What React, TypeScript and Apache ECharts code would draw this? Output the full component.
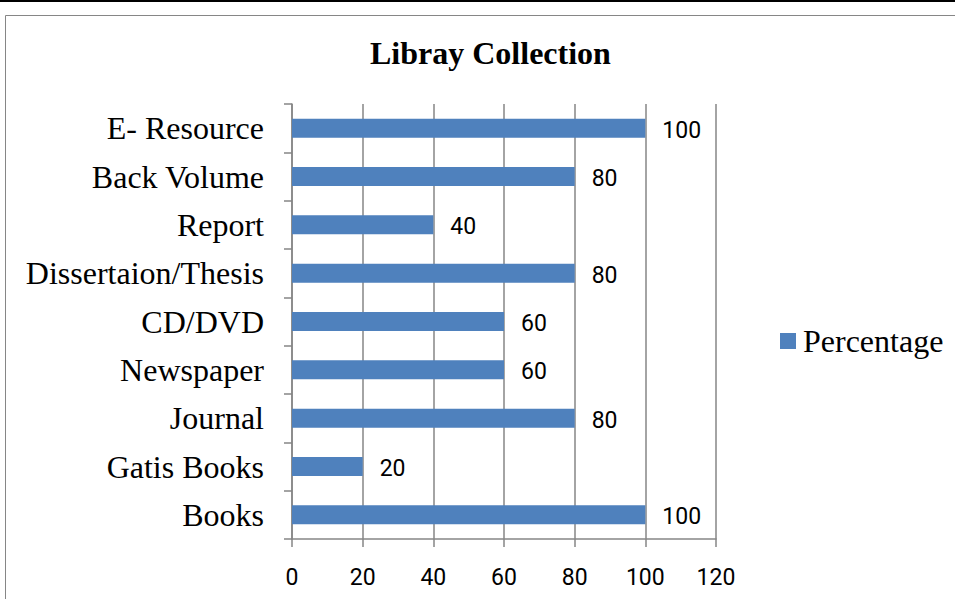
import React, { useEffect, useRef } from "react";
import * as echarts from "echarts";

const categories = [
  "Books",
  "Gatis Books",
  "Journal",
  "Newspaper",
  "CD/DVD",
  "Dissertaion/Thesis",
  "Report",
  "Back Volume",
  "E- Resource",
];
const percentage = [100, 20, 80, 60, 60, 80, 40, 80, 100];
const seriesName = "Percentage";
const titleText = "Libray Collection";

const SERIF = "'Liberation Serif', 'Times New Roman', serif";
const SANS = "Roboto, 'Open Sans', sans-serif";
const GRAY = "#868686";

export default function App() {
  const ref = useRef<HTMLDivElement>(null);
  useEffect(() => {
    if (!ref.current) return;
    const chart = echarts.init(ref.current, null, { renderer: "svg" });
    chart.setOption({
      animation: false,
      backgroundColor: "#ffffff",
      title: {
        text: titleText,
        left: 365,
        top: 32,
        textStyle: { fontFamily: SERIF, fontWeight: "bold", fontSize: 32, color: "#000" },
      },
      legend: {
        data: [seriesName],
        left: 775,
        top: 320,
        icon: "rect",
        itemWidth: 16,
        itemHeight: 16,
        itemGap: 5,
        textStyle: { fontFamily: SERIF, fontSize: 32, color: "#000", padding: [0, 0, 0, 2] },
      },
      graphic: [
        {
          type: "rect",
          shape: { x: 5.5, y: 15.5, width: 1000, height: 700 },
          style: { fill: "none", stroke: GRAY, lineWidth: 1 },
          silent: true,
        },
        {
          type: "rect",
          shape: { x: 0, y: 0, width: 955, height: 2 },
          style: { fill: "#000" },
          silent: true,
        },
      ],
      grid: { left: 292, right: 239, top: 104, bottom: 60, containLabel: false },
      xAxis: {
        type: "value",
        min: 0,
        max: 120,
        interval: 20,
        axisLine: { show: true, lineStyle: { color: GRAY, width: 1.5 } },
        axisTick: { show: true, length: 8, lineStyle: { color: GRAY, width: 1.5 } },
        splitLine: { show: true, lineStyle: { color: GRAY, width: 1.5 } },
        axisLabel: { fontFamily: SANS, fontSize: 23, color: "#000", margin: 27 },
      },
      yAxis: {
        type: "category",
        data: categories,
        axisLine: { show: true, lineStyle: { color: GRAY, width: 1.5 } },
        axisTick: { show: true, length: 8, lineStyle: { color: GRAY, width: 1.5 } },
        axisLabel: { fontFamily: SERIF, fontSize: 32, color: "#000", margin: 28 },
      },
      series: [
        {
          name: seriesName,
          type: "bar",
          data: percentage,
          barWidth: 19,
          itemStyle: { color: "#4F81BD" },
          label: {
            show: true,
            position: "right",
            distance: 17,
            offset: [0, 2],
            fontFamily: SANS,
            fontSize: 23,
            color: "#000",
          },
        },
      ],
    });
    return () => chart.dispose();
  }, []);
  return (
    <div
      ref={ref}
      style={{ position: "fixed", left: 0, top: 0, width: 955, height: 599 }}
    />
  );
}
